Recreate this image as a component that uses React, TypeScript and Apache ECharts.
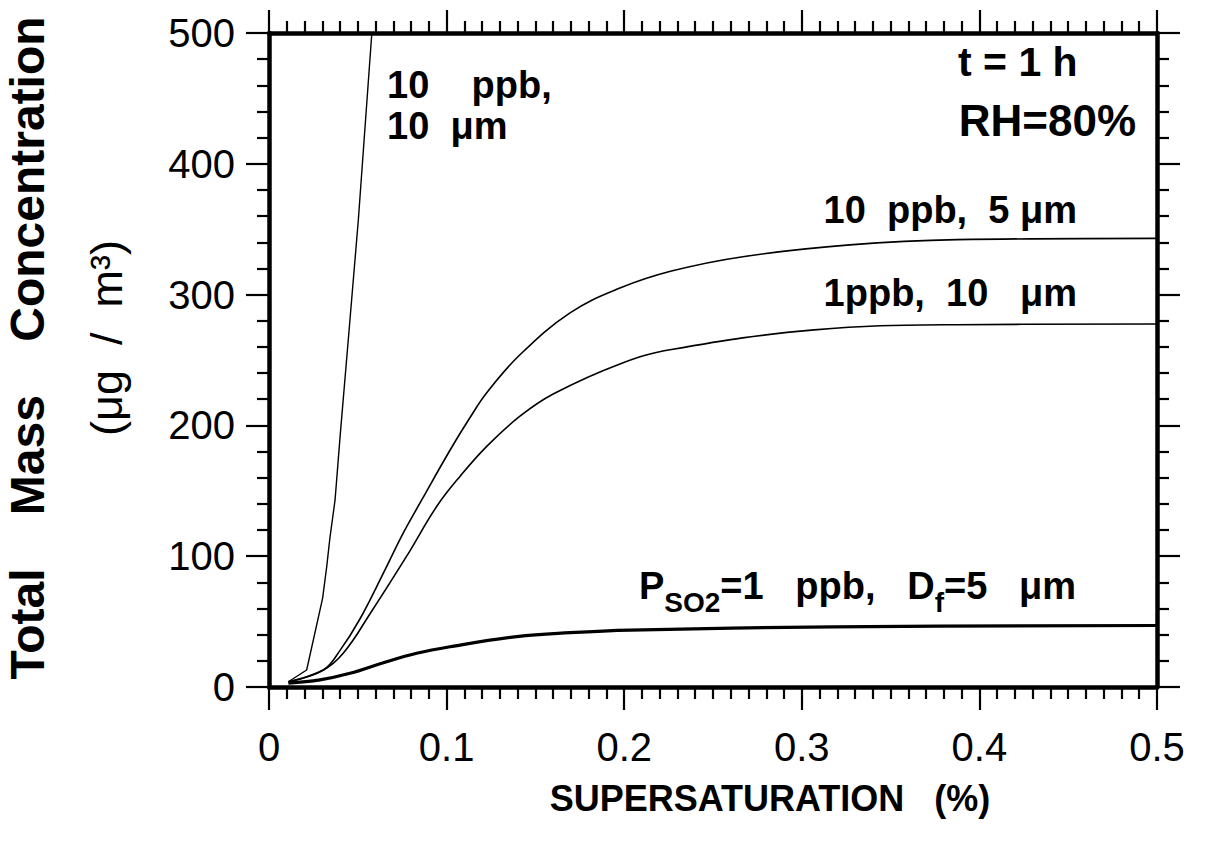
import React, { useEffect, useRef } from "react";
import * as echarts from "echarts";

const FONT = "'Liberation Sans', Arial, Helvetica, sans-serif";

// Axis ticks and labels
const xTickValues = [0, 0.1, 0.2, 0.3, 0.4, 0.5];
const xTickLabels = ["0", "0.1", "0.2", "0.3", "0.4", "0.5"];
const yTickValues = [0, 100, 200, 300, 400, 500];
const yTickLabels = ["0", "100", "200", "300", "400", "500"];

// Series: [supersaturation %, total mass concentration µg/m3]
const ppb10um10: [number, number][] = [
  [0.0109, 4], [0.0212, 13], [0.0302, 68], [0.0325, 92], [0.0343, 114],
  [0.0372, 143], [0.04, 191], [0.0456, 281], [0.0503, 357], [0.0579, 500],
];
const ppb10um5: [number, number][] = [
  [0.0109, 4], [0.0306, 13], [0.04, 28], [0.0512, 52], [0.0644, 87],
  [0.0757, 118], [0.086, 143], [0.1019, 181], [0.1132, 206],
  [0.1226, 225], [0.1413, 254], [0.1695, 286], [0.1976, 305], [0.2266, 318],
  [0.2668, 329], [0.327, 338], [0.3874, 342], [0.5, 343],
];
const ppb1um10: [number, number][] = [
  [0.0109, 4], [0.0306, 13], [0.0419, 26], [0.0569, 56], [0.0775, 100],
  [0.0944, 138], [0.1075, 161], [0.1226, 184], [0.1413, 207],
  [0.16, 224], [0.1976, 247], [0.2266, 258], [0.307, 273], [0.387, 277], [0.5, 277.5],
];
const ppb1um5: [number, number][] = [
  [0.0109, 3], [0.0287, 5.5], [0.0456, 10.5], [0.0644, 18.6], [0.0831, 25.8],
  [0.1019, 30.8], [0.1395, 38.5], [0.1695, 41.5], [0.2033, 43.5],
  [0.318, 46], [0.5, 47],
];

function labelFor(values: number[], labels: string[], v: number): string {
  let best = 0;
  for (let i = 1; i < values.length; i++) {
    if (Math.abs(values[i] - v) < Math.abs(values[best] - v)) best = i;
  }
  return labels[best];
}

const axisLine = { show: true, onZero: false, lineStyle: { color: "#000", width: 4.5 } };
const tick = { show: true, inside: false, length: 23, lineStyle: { color: "#000", width: 2.2 } };
const minor = (n: number) => ({ show: true, splitNumber: n, length: 12, lineStyle: { color: "#000", width: 2.2 } });

export default function App() {
  const ref = useRef<HTMLDivElement>(null);
  useEffect(() => {
    if (!ref.current) return;
    const chart = echarts.init(ref.current, undefined, { renderer: "svg" });
    const bold = { fontFamily: FONT, fontWeight: "bold", fill: "#000" };
    chart.setOption({
      animation: false,
      backgroundColor: "#fff",
      grid: { left: 269, right: 52, top: 33, bottom: 160, containLabel: false },
      xAxis: [
        {
          type: "value", min: 0, max: 0.5, interval: 0.1, position: "bottom",
          axisLine, axisTick: tick, minorTick: minor(10),
          splitLine: { show: false },
          axisLabel: {
            margin: 40, fontSize: 40, color: "#000", fontFamily: FONT,
            formatter: (v: number) => labelFor(xTickValues, xTickLabels, v),
          },
        },
        {
          type: "value", min: 0, max: 0.5, interval: 0.1, position: "top",
          axisLine, axisTick: tick, minorTick: minor(10),
          splitLine: { show: false }, axisLabel: { show: false },
        },
      ],
      yAxis: [
        {
          type: "value", min: 0, max: 500, interval: 100, position: "left",
          axisLine, axisTick: tick, minorTick: minor(5),
          splitLine: { show: false },
          axisLabel: {
            margin: 34, fontSize: 40, color: "#000", fontFamily: FONT,
            formatter: (v: number) => labelFor(yTickValues, yTickLabels, v),
          },
        },
        {
          type: "value", min: 0, max: 500, interval: 100, position: "right",
          axisLine, axisTick: tick, minorTick: minor(5),
          splitLine: { show: false }, axisLabel: { show: false },
        },
      ],
      series: [
        { name: "10 ppb, 10 µm", type: "line", data: ppb10um10, showSymbol: false, smooth: false,
          lineStyle: { color: "#000", width: 1.4 } },
        { name: "10 ppb, 5 µm", type: "line", data: ppb10um5, showSymbol: false, smooth: 0.4,
          lineStyle: { color: "#000", width: 1.6 } },
        { name: "1 ppb, 10 µm", type: "line", data: ppb1um10, showSymbol: false, smooth: 0.4,
          lineStyle: { color: "#000", width: 1.6 } },
        { name: "1 ppb, 5 µm", type: "line", data: ppb1um5, showSymbol: false, smooth: 0.4,
          lineStyle: { color: "#000", width: 3.2 } },
      ],
      graphic: [
        { type: "text", x: 387, y: 85, style: { ...bold, text: "10    ppb,", fontSize: 38, align: "left", verticalAlign: "middle" } },
        { type: "text", x: 387, y: 126, style: { ...bold, text: "10  μm", fontSize: 38, align: "left", verticalAlign: "middle" } },
        { type: "text", x: 958, y: 62, style: { ...bold, text: "t = 1 h", fontSize: 41, align: "left", verticalAlign: "middle" } },
        { type: "text", x: 1136, y: 120, style: { ...bold, text: "RH=80%", fontSize: 44, align: "right", verticalAlign: "middle" } },
        { type: "text", x: 1077, y: 210, style: { ...bold, text: "10  ppb,  5 μm", fontSize: 38, align: "right", verticalAlign: "middle" } },
        { type: "text", x: 1077, y: 293, style: { ...bold, text: "1ppb,  10   μm", fontSize: 38, align: "right", verticalAlign: "middle" } },
        {
          type: "text", x: 1076, y: 588,
          style: {
            text: "{a|P}{s|SO2}{a|=1   ppb,   D}{s|f}{a|=5   μm}",
            align: "right", verticalAlign: "middle",
            rich: {
              a: { fontFamily: FONT, fontWeight: "bold", fontSize: 38, lineHeight: 42, verticalAlign: "top", color: "#000" },
              s: { fontFamily: FONT, fontWeight: "bold", fontSize: 28, lineHeight: 28, verticalAlign: "top", padding: [21, 0, 0, 0], color: "#000" },
            },
          },
        },
        { type: "text", x: 770, y: 798, style: { ...bold, text: "SUPERSATURATION   (%)", fontSize: 36, align: "center", verticalAlign: "middle" } },
        { type: "text", x: 27, y: 348, rotation: Math.PI / 2, style: { ...bold, text: "Total    Mass    Concentration", fontSize: 48, align: "center", verticalAlign: "middle" } },
        { type: "text", x: 106, y: 338, rotation: Math.PI / 2, style: { fontFamily: FONT, fill: "#000", text: "(μg  /  m³)", fontSize: 45, align: "center", verticalAlign: "middle" } },
      ],
    });
    return () => chart.dispose();
  }, []);
  return (
    <div
      ref={ref}
      style={{ position: "fixed", left: 0, top: 0, width: 1209, height: 847, background: "#fff" }}
    />
  );
}
